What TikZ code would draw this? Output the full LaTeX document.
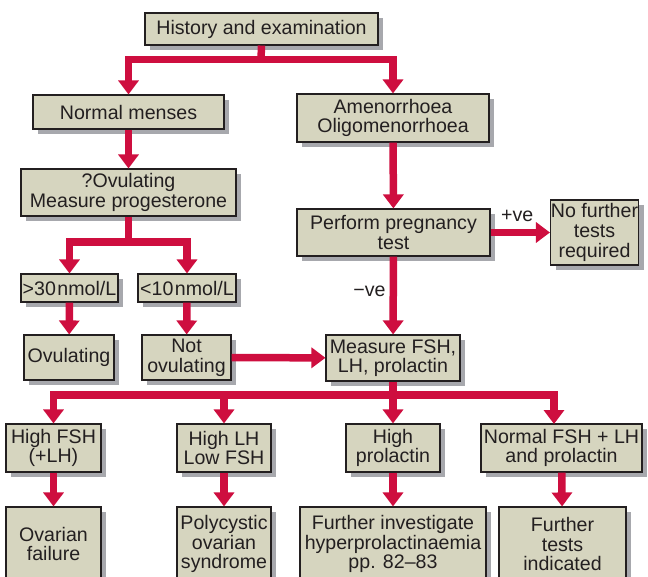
\documentclass[tikz,border=0pt]{standalone}
\usepackage{fontspec}
\setmainfont{Liberation Sans}
\usetikzlibrary{arrows.meta,shadows}
\definecolor{boxfill}{HTML}{D6D5BF}
\definecolor{shadowgray}{HTML}{A7A8AD}
\definecolor{flowred}{HTML}{CE0E3F}
\definecolor{textdark}{HTML}{231F20}
\begin{document}
\begin{tikzpicture}[x=1pt,y=-1pt,
  box/.style={draw=textdark,line width=1.1pt,fill=boxfill,inner sep=0pt,align=center,
    text=textdark,font=\fontsize{19.6}{19.6}\selectfont,
    drop shadow={shadow xshift=5pt,shadow yshift=-5pt,fill=shadowgray,opacity=1}},
  conn/.style={draw=flowred,line width=7.5pt,line join=miter},
  arr/.style={conn,-{Triangle[width=20pt,length=14pt]}},
  lbl/.style={text=textdark,font=\fontsize{19.6}{19.6}\selectfont,inner sep=0pt}]
\useasboundingbox (0,0) rectangle (648,577);
\clip (0,0) rectangle (648,577);

\node[box,minimum width=233pt,minimum height=32pt] (hist) at (261.5,29) {History and examination};
\node[box,minimum width=191pt,minimum height=34pt] (normal) at (128.5,112) {Normal menses};
\node[box,minimum width=192pt,minimum height=48pt] (amen) at (393,118) {Amenorrhoea\\Oligomenorrhoea};
\node[box,minimum width=215pt,minimum height=47pt] (ovq) at (128.5,192.5) {?Ovulating\\Measure progesterone};
\node[box,minimum width=193pt,minimum height=47pt] (preg) at (393.5,232.5) {Perform pregnancy\\test};
\node[box,minimum width=88pt,minimum height=65pt] (nofur) at (594.5,232.5) {No further\\tests\\required};
\node[box,minimum width=97pt,minimum height=28pt] (g30) at (69.5,288) {>30\kern1.5pt nmol/L};
\node[box,minimum width=98pt,minimum height=28pt] (l10) at (187,288) {<10\kern1.5pt nmol/L};
\node[box,minimum width=90pt,minimum height=45pt] (ovul) at (69,357.5) {Ovulating};
\node[box,minimum width=89pt,minimum height=45pt] (notov) at (186.5,357.5) {Not\\ovulating};
\node[box,minimum width=134pt,minimum height=46pt] (fsh) at (393,358) {Measure FSH,\\LH, prolactin};
\node[box,minimum width=95pt,minimum height=48pt] (hf) at (53.5,448) {High FSH\\(+LH)};
\node[box,minimum width=94pt,minimum height=48pt] (hl) at (224,448) {High LH\\Low FSH};
\node[box,minimum width=94pt,minimum height=48pt] (hp) at (393,448) {High\\prolactin};
\node[box,minimum width=161pt,minimum height=48pt] (nf) at (561.5,448) {Normal FSH + LH\\and prolactin};
\node[box,minimum width=95pt,minimum height=74pt] (of) at (53.5,544) {Ovarian\\failure};
\node[box,minimum width=94pt,minimum height=74pt] (pc) at (224,544) {Polycystic\\ovarian\\syndrome};
\node[box,minimum width=186pt,minimum height=74pt] (fi) at (393,544) {Further investigate\\hyperprolactinaemia\\pp. 82–83};
\node[box,minimum width=127pt,minimum height=74pt] (ft) at (562.5,544) {Further\\tests\\indicated};

% branch from history
\coordinate (b1) at (261,59.5);
\draw[conn] (hist.south) -- (b1);
\draw[arr] (b1) -| (normal.north);
\draw[arr] (b1) -| (amen.north);
\draw[arr] (normal) -- (ovq);
\draw[arr] (amen) -- (preg);

% progesterone branch
\coordinate (b2) at (128.5,242);
\draw[conn] (ovq.south) -- (b2);
\draw[arr] (b2) -| (g30.north);
\draw[arr] (b2) -| (l10.north);
\draw[arr] (g30) -- (ovul);
\draw[arr] (l10) -- (notov);

% pregnancy test
\draw[arr] (preg) -- node[lbl,above=7pt,pos=0.45] (pos) {+ve} (nofur);
\draw[arr] (preg) -- node[lbl,left=4pt,pos=0.45] (neg) {−ve} (fsh);
\draw[arr] (notov) -- (fsh);

% FSH branch
\coordinate (b3) at (393,395);
\coordinate (nfin) at (554,424);
\draw[conn] (fsh.south) -- (b3);
\draw[arr] (b3) -| (hf.north);
\draw[arr] (b3) -| (hl.north);
\draw[arr] (b3) -- (hp.north);
\draw[arr] (b3) -| (nfin);

\draw[arr] (hf) -- (of);
\draw[arr] (hl) -- (pc);
\draw[arr] (hp) -- (fi);
\draw[arr] (nf) -- (ft);
\end{tikzpicture}
\end{document}
